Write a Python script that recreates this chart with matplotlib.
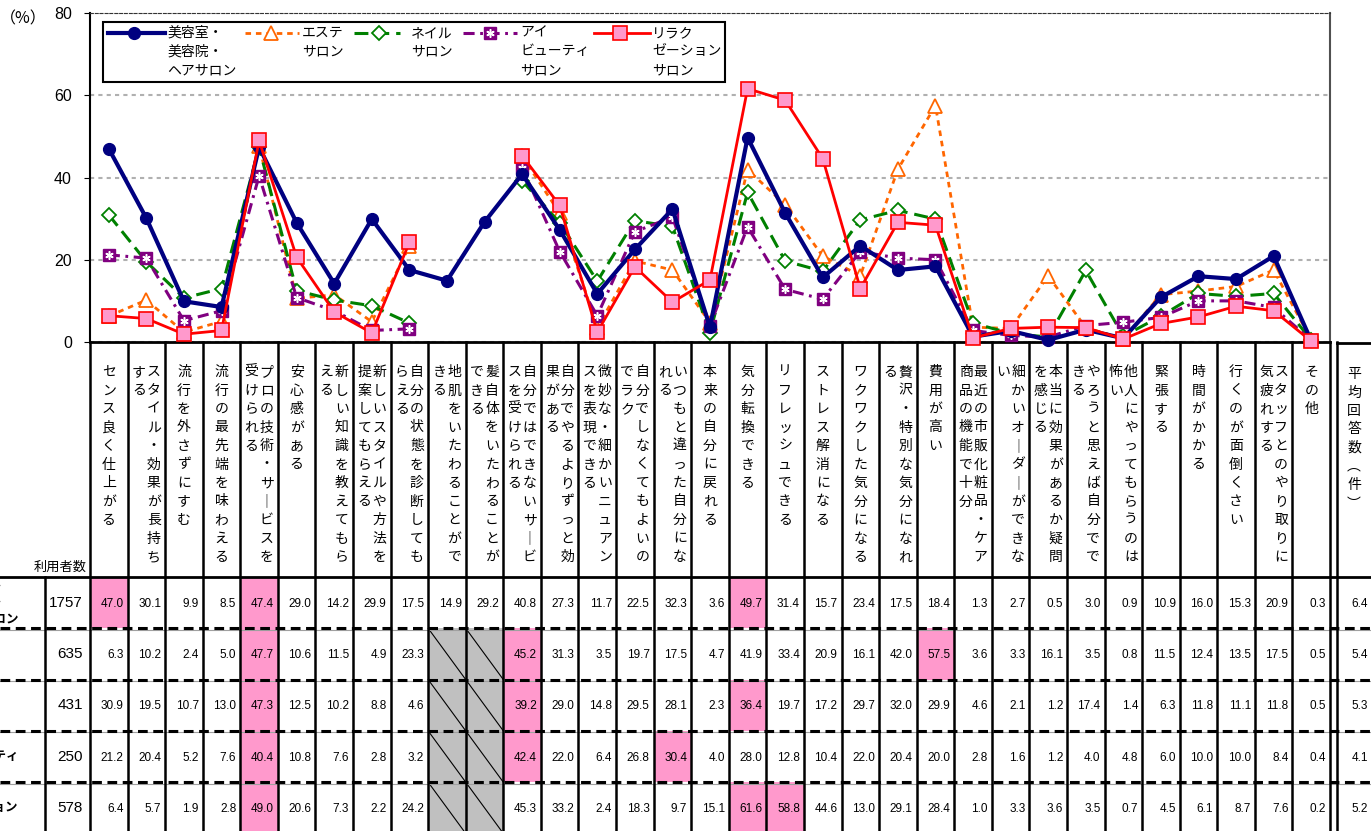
import matplotlib
matplotlib.use('Agg')
import matplotlib.pyplot as plt
import numpy as np
from matplotlib.patches import Rectangle

plt.rcParams['font.family'] = ['Noto Sans CJK JP', 'DejaVu Sans']
plt.rcParams['lines.scale_dashes'] = False

# ---- data ----
categories = [
    'センス良く仕上がる', 'スタイル・効果が長持ちする', '流行を外さずにすむ', '流行の最先端を味わえる',
    'プロの技術・サービスを受けられる', '安心感がある', '新しい知識を教えてもらえる',
    '新しいスタイルや方法を提案してもらえる', '自分の状態を診断してもらえる', '地肌をいたわることができる',
    '髪自体をいたわることができる', '自分ではできないサービスを受けられる', '自分でやるよりずっと効果がある',
    '微妙な・細かいニュアンスを表現できる', '自分でしなくてもよいのでラク', 'いつもと違った自分になれる',
    '本来の自分に戻れる', '気分転換できる', 'リフレッシュできる', 'ストレス解消になる',
    'ワクワクした気分になる', '贅沢・特別な気分になれる', '費用が高い', '最近の市販化粧品・ケア商品の機能で十分',
    '細かいオーダーができない', '本当に効果があるか疑問を感じる', 'やろうと思えば自分でできる',
    '他人にやってもらうのは怖い', '緊張する', '時間がかかる', '行くのが面倒くさい',
    'スタッフとのやり取りに気疲れする', 'その他',
]
series_labels = [
    ['美容室・', '美容院・', 'ヘアサロン'],
    ['エステ', 'サロン'],
    ['ネイル', 'サロン'],
    ['アイ', 'ビューティ', 'サロン'],
    ['リラク', 'ゼーション', 'サロン'],
]
nan = np.nan
hair = [47.0, 30.1, 9.9, 8.5, 47.4, 29.0, 14.2, 29.9, 17.5, 14.9, 29.2, 40.8, 27.3, 11.7, 22.5, 32.3, 3.6,
        49.7, 31.4, 15.7, 23.4, 17.5, 18.4, 1.3, 2.7, 0.5, 3.0, 0.9, 10.9, 16.0, 15.3, 20.9, 0.3]
esthe = [6.3, 10.2, 2.4, 5.0, 47.7, 10.6, 11.5, 4.9, 23.3, nan, nan, 45.2, 31.3, 3.5, 19.7, 17.5, 4.7,
         41.9, 33.4, 20.9, 16.1, 42.0, 57.5, 3.6, 3.3, 16.1, 3.5, 0.8, 11.5, 12.4, 13.5, 17.5, 0.5]
nail = [30.9, 19.5, 10.7, 13.0, 47.3, 12.5, 10.2, 8.8, 4.6, nan, nan, 39.2, 29.0, 14.8, 29.5, 28.1, 2.3,
        36.4, 19.7, 17.2, 29.7, 32.0, 29.9, 4.6, 2.1, 1.2, 17.4, 1.4, 6.3, 11.8, 11.1, 11.8, 0.5]
eye = [21.2, 20.4, 5.2, 7.6, 40.4, 10.8, 7.6, 2.8, 3.2, nan, nan, 42.4, 22.0, 6.4, 26.8, 30.4, 4.0,
       28.0, 12.8, 10.4, 22.0, 20.4, 20.0, 2.8, 1.6, 1.2, 4.0, 4.8, 6.0, 10.0, 10.0, 8.4, 0.4]
relax = [6.4, 5.7, 1.9, 2.8, 49.0, 20.6, 7.3, 2.2, 24.2, nan, nan, 45.3, 33.2, 2.4, 18.3, 9.7, 15.1,
         61.6, 58.8, 44.6, 13.0, 29.1, 28.4, 1.0, 3.3, 3.6, 3.5, 0.7, 4.5, 6.1, 8.7, 7.6, 0.2]
users = [1757, 635, 431, 250, 578]
avg_answers = [6.4, 5.4, 5.3, 4.1, 5.2]
yticks = [0, 20, 40, 60, 80]

data = [hair, esthe, nail, eye, relax]

styles = [
    dict(color='#000080', lw=3, ls='-', marker='o', ms=8.5, mfc='#000080', mec='#000080', mew=1),
    dict(color='#FF6600', lw=2, ls=(0, (4, 3.5)), marker='^', ms=10, mfc='white', mec='#FF6600', mew=1.3),
    dict(color='#008000', lw=2.2, ls=(0, (10, 5)), marker='D', ms=7, mfc='white', mec='#008000', mew=1.3),
    dict(color='#800080', lw=2.2, ls=(0, (8, 4, 2, 4)), marker='s', ms=9, mfc='#800080', mec='#800080', mew=1),
    dict(color='#FF0000', lw=2, ls='-', marker='s', ms=9.5, mfc='#FF99CC', mec='#FF0000', mew=1.2),
]
zorders = [4, 3, 3, 3.5, 5]

# ---- layout (pixels) ----
WF, HF = 1371, 831
L, R, T, B = 90, 1330, 13, 342
n = len(categories)
xe = L + np.arange(n + 1) * (R - L) / n

fig = plt.figure(figsize=(WF / 100, HF / 100), dpi=100)
ax = fig.add_axes([L / WF, 1 - B / HF, (R - L) / WF, (B - T) / HF])
x = np.arange(n)
for vals, st, z in zip(data, styles, zorders):
    ax.plot(x, vals, color=st['color'], lw=st['lw'], linestyle=st['ls'], marker=st['marker'],
            ms=st['ms'], mfc=st['mfc'], mec=st['mec'], mew=st['mew'], zorder=z, clip_on=False)
ax.plot(x, eye, ls='none', marker=(6, 2, 0), ms=6, mec='white', mew=1.1, zorder=3.6, clip_on=False)

ax.set_xlim(-0.5, n - 0.5)
ax.set_ylim(0, 80)
ax.set_xticks([])
ax.set_yticks(yticks)
ax.tick_params(axis='y', length=4, pad=9, labelsize=11.5)
for lab in ax.get_yticklabels():
    lab.set_fontfamily('Liberation Sans')
ax.yaxis.grid(True, color='#b0b0b0', linestyle=(0, (3, 3)), linewidth=1.5)
ax.spines['top'].set_linestyle((0, (2, 1.5)))
ax.spines['top'].set_color('#333333')
ax.spines['right'].set_color('#505050')
ax.spines['right'].set_linewidth(1.5)
ax.spines['left'].set_linewidth(1.5)
ax.spines['bottom'].set_linewidth(2)

# ---- overlay for table, labels and legend ----
tb = fig.add_axes([0, 0, 1, 1], zorder=5)
tb.set_xlim(0, WF)
tb.set_ylim(HF, 0)
tb.axis('off')

tb.text(23, 19, '（%）', ha='center', va='center', fontsize=11.5)


def vert(s):
    return s.replace('ー', '｜').replace('（', '︵').replace('）', '︶')


for i, lab in enumerate(categories):
    parts = [lab[j:j + 11] for j in range(0, len(lab), 11)]
    cx = (xe[i] + xe[i + 1]) / 2
    offs = [0] if len(parts) == 1 else [7.5, -7.5]
    for part, dx in zip(parts, offs):
        for k, ch in enumerate(vert(part)):
            tb.text(cx + dx, 372 + k * 18.5, ch, ha='center', va='center', fontsize=10)

for k, ch in enumerate(vert('平均回答数（件）')):
    tb.text(1354, 374 + k * 18.5, ch, ha='center', va='center', fontsize=10)

tb.text(87, 567, '利用者数', ha='right', va='center', fontsize=9.5)

ROW0, RH = 577, 51.3
for r, vals in enumerate(data):
    yt = ROW0 + r * RH
    yc = yt + RH / 2
    valid = [v for v in vals if not np.isnan(v)]
    top3 = sorted(valid, reverse=True)[:3]
    for i, v in enumerate(vals):
        x0, x1 = xe[i], xe[i + 1]
        if np.isnan(v):
            tb.add_patch(Rectangle((x0, yt), x1 - x0, RH, fc='#c0c0c0', ec='none'))
            tb.plot([x0, x1], [yt, yt + RH], color='black', lw=0.8)
            continue
        if v in top3:
            tb.add_patch(Rectangle((x0, yt), x1 - x0, RH, fc='#FF99CC', ec='none'))
        tb.text(x1 - 4, yc + 1, f'{v:.1f}', ha='right', va='center', fontsize=8.5,
                fontfamily='Liberation Sans')
    tb.text(83, yc, str(users[r]), ha='right', va='center', fontsize=11, fontfamily='Liberation Sans')
    tb.text(1368, yc + 1, f'{avg_answers[r]:.1f}', ha='right', va='center', fontsize=8.5,
            fontfamily='Liberation Sans')
    # row labels are partly outside the left edge, as in the source image
    lines = series_labels[r]
    for k, ln in enumerate(lines):
        tb.text(-44, yc + (k - (len(lines) - 1) / 2) * 16, ln, ha='left', va='center',
                fontsize=9, fontweight='bold')

# grid lines of the table
tb.plot([0, WF], [ROW0, ROW0], color='black', lw=2)
for r in range(1, len(data)):
    y = ROW0 + r * RH
    tb.plot([0, WF], [y + 1.5, y + 1.5], color='#a0a0a0', lw=0.8)
    tb.plot([0, WF], [y, y], color='black', lw=2.2, linestyle=(0, (7, 4)))
for xv in xe:
    tb.plot([xv, xv], [B, HF], color='black', lw=1.8)
tb.plot([45, 45], [ROW0, HF], color='black', lw=1.8)
tb.plot([1337, 1337], [B, HF], color='black', lw=1.8)
tb.plot([1337, WF], [B + 1, B + 1], color='black', lw=2)

# legend
tb.add_patch(Rectangle((103, 22), 622, 60, fc='white', ec='black', lw=1.5, zorder=6))
leg_pos = [(108, 165, 134, 167), (245, 299, 271, 302), (354, 400, 379, 411),
           (463, 517, 490, 520), (594, 650, 620, 652)]
for st, (xa, xb, xm, xt), lines in zip(styles, leg_pos, series_labels):
    tb.plot([xa, xb], [33, 33], color=st['color'], lw=st['lw'], linestyle=st['ls'], zorder=7)
    tb.plot([xm], [33], ls='none', marker=st['marker'], ms=st['ms'], mfc=st['mfc'],
            mec=st['mec'], mew=st['mew'], zorder=8)
    for k, ln in enumerate(lines):
        tb.text(xt, 33 + k * 18.5, ln, ha='left', va='center', fontsize=10, zorder=8)
tb.plot([490], [33], ls='none', marker=(6, 2, 0), ms=6, mec='white', mew=1.1, zorder=9)

fig.savefig('out.png', dpi=100)
